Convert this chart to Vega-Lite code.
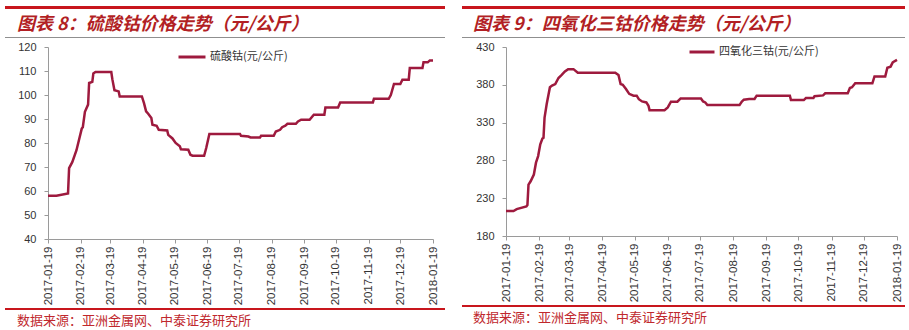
{
  "$schema": "https://vega.github.io/schema/vega-lite/v6.json",
  "background": "white",
  "padding": {"left": 5, "top": 6, "right": 0, "bottom": 0},
  "config": {
    "view": {"stroke": null},
    "axis": {"labelFont": "Liberation Sans", "labelFontSize": 11, "labelColor": "#333333", "domainColor": "#9a9a9a", "tickColor": "#9a9a9a", "tickSize": 4, "grid": false, "title": null},
    "axisY": {"labelPadding": 8},
    "axisX": {"labelPadding": 3, "labelFontSize": 11.5},
    "legend": {"padding": 0}
  },
  "resolve": {"scale": {"color": "independent", "x": "independent", "y": "independent"}, "legend": {"color": "independent"}},
  "datasets": {
    "s1": [
      {"date": "2017-01-19", "value": 58, "series": "硫酸钴(元/公斤)"},
      {"date": "2017-01-27", "value": 58, "series": "硫酸钴(元/公斤)"},
      {"date": "2017-02-07", "value": 59, "series": "硫酸钴(元/公斤)"},
      {"date": "2017-02-08", "value": 69.5, "series": "硫酸钴(元/公斤)"},
      {"date": "2017-02-11", "value": 72, "series": "硫酸钴(元/公斤)"},
      {"date": "2017-02-15", "value": 77, "series": "硫酸钴(元/公斤)"},
      {"date": "2017-02-20", "value": 86, "series": "硫酸钴(元/公斤)"},
      {"date": "2017-02-21", "value": 86.6, "series": "硫酸钴(元/公斤)"},
      {"date": "2017-02-23", "value": 93, "series": "硫酸钴(元/公斤)"},
      {"date": "2017-02-26", "value": 96, "series": "硫酸钴(元/公斤)"},
      {"date": "2017-02-27", "value": 105, "series": "硫酸钴(元/公斤)"},
      {"date": "2017-03-02", "value": 105.5, "series": "硫酸钴(元/公斤)"},
      {"date": "2017-03-03", "value": 109, "series": "硫酸钴(元/公斤)"},
      {"date": "2017-03-05", "value": 109.6, "series": "硫酸钴(元/公斤)"},
      {"date": "2017-03-20", "value": 109.6, "series": "硫酸钴(元/公斤)"},
      {"date": "2017-03-21", "value": 106.6, "series": "硫酸钴(元/公斤)"},
      {"date": "2017-03-23", "value": 102, "series": "硫酸钴(元/公斤)"},
      {"date": "2017-03-27", "value": 101.5, "series": "硫酸钴(元/公斤)"},
      {"date": "2017-03-28", "value": 99.4, "series": "硫酸钴(元/公斤)"},
      {"date": "2017-04-18", "value": 99.4, "series": "硫酸钴(元/公斤)"},
      {"date": "2017-04-20", "value": 96.6, "series": "硫酸钴(元/公斤)"},
      {"date": "2017-04-22", "value": 93.2, "series": "硫酸钴(元/公斤)"},
      {"date": "2017-04-24", "value": 92.2, "series": "硫酸钴(元/公斤)"},
      {"date": "2017-04-27", "value": 90.4, "series": "硫酸钴(元/公斤)"},
      {"date": "2017-04-28", "value": 87.6, "series": "硫酸钴(元/公斤)"},
      {"date": "2017-05-02", "value": 87.2, "series": "硫酸钴(元/公斤)"},
      {"date": "2017-05-04", "value": 85.5, "series": "硫酸钴(元/公斤)"},
      {"date": "2017-05-12", "value": 85.2, "series": "硫酸钴(元/公斤)"},
      {"date": "2017-05-13", "value": 83.4, "series": "硫酸钴(元/公斤)"},
      {"date": "2017-05-17", "value": 81.9, "series": "硫酸钴(元/公斤)"},
      {"date": "2017-05-20", "value": 80, "series": "硫酸钴(元/公斤)"},
      {"date": "2017-05-24", "value": 78.6, "series": "硫酸钴(元/公斤)"},
      {"date": "2017-05-25", "value": 77.4, "series": "硫酸钴(元/公斤)"},
      {"date": "2017-06-01", "value": 77.2, "series": "硫酸钴(元/公斤)"},
      {"date": "2017-06-03", "value": 75.1, "series": "硫酸钴(元/公斤)"},
      {"date": "2017-06-05", "value": 74.7, "series": "硫酸钴(元/公斤)"},
      {"date": "2017-06-16", "value": 74.7, "series": "硫酸钴(元/公斤)"},
      {"date": "2017-06-18", "value": 77.9, "series": "硫酸钴(元/公斤)"},
      {"date": "2017-06-21", "value": 83.8, "series": "硫酸钴(元/公斤)"},
      {"date": "2017-07-20", "value": 83.8, "series": "硫酸钴(元/公斤)"},
      {"date": "2017-07-21", "value": 83, "series": "硫酸钴(元/公斤)"},
      {"date": "2017-07-28", "value": 82.7, "series": "硫酸钴(元/公斤)"},
      {"date": "2017-07-30", "value": 82.3, "series": "硫酸钴(元/公斤)"},
      {"date": "2017-08-08", "value": 82.3, "series": "硫酸钴(元/公斤)"},
      {"date": "2017-08-09", "value": 83, "series": "硫酸钴(元/公斤)"},
      {"date": "2017-08-21", "value": 83, "series": "硫酸钴(元/公斤)"},
      {"date": "2017-08-23", "value": 84.8, "series": "硫酸钴(元/公斤)"},
      {"date": "2017-08-27", "value": 85.5, "series": "硫酸钴(元/公斤)"},
      {"date": "2017-08-29", "value": 86.6, "series": "硫酸钴(元/公斤)"},
      {"date": "2017-09-01", "value": 87.2, "series": "硫酸钴(元/公斤)"},
      {"date": "2017-09-03", "value": 88, "series": "硫酸钴(元/公斤)"},
      {"date": "2017-09-11", "value": 88, "series": "硫酸钴(元/公斤)"},
      {"date": "2017-09-13", "value": 89, "series": "硫酸钴(元/公斤)"},
      {"date": "2017-09-16", "value": 89.7, "series": "硫酸钴(元/公斤)"},
      {"date": "2017-09-24", "value": 89.7, "series": "硫酸钴(元/公斤)"},
      {"date": "2017-09-28", "value": 91.8, "series": "硫酸钴(元/公斤)"},
      {"date": "2017-10-08", "value": 91.8, "series": "硫酸钴(元/公斤)"},
      {"date": "2017-10-09", "value": 94.8, "series": "硫酸钴(元/公斤)"},
      {"date": "2017-10-21", "value": 94.8, "series": "硫酸钴(元/公斤)"},
      {"date": "2017-10-23", "value": 96.9, "series": "硫酸钴(元/公斤)"},
      {"date": "2017-11-23", "value": 96.9, "series": "硫酸钴(元/公斤)"},
      {"date": "2017-11-24", "value": 98.4, "series": "硫酸钴(元/公斤)"},
      {"date": "2017-12-08", "value": 98.4, "series": "硫酸钴(元/公斤)"},
      {"date": "2017-12-10", "value": 100, "series": "硫酸钴(元/公斤)"},
      {"date": "2017-12-13", "value": 104.6, "series": "硫酸钴(元/公斤)"},
      {"date": "2017-12-19", "value": 104.6, "series": "硫酸钴(元/公斤)"},
      {"date": "2017-12-21", "value": 106.4, "series": "硫酸钴(元/公斤)"},
      {"date": "2017-12-27", "value": 106.4, "series": "硫酸钴(元/公斤)"},
      {"date": "2017-12-28", "value": 111.2, "series": "硫酸钴(元/公斤)"},
      {"date": "2018-01-09", "value": 111.2, "series": "硫酸钴(元/公斤)"},
      {"date": "2018-01-10", "value": 113.6, "series": "硫酸钴(元/公斤)"},
      {"date": "2018-01-14", "value": 113.6, "series": "硫酸钴(元/公斤)"},
      {"date": "2018-01-16", "value": 114.4, "series": "硫酸钴(元/公斤)"},
      {"date": "2018-01-19", "value": 114.4, "series": "硫酸钴(元/公斤)"}
    ],
    "s2": [
      {"date": "2017-01-19", "value": 213, "series": "四氧化三钴(元/公斤)"},
      {"date": "2017-01-26", "value": 213, "series": "四氧化三钴(元/公斤)"},
      {"date": "2017-01-29", "value": 215.5, "series": "四氧化三钴(元/公斤)"},
      {"date": "2017-02-07", "value": 219, "series": "四氧化三钴(元/公斤)"},
      {"date": "2017-02-08", "value": 221, "series": "四氧化三钴(元/公斤)"},
      {"date": "2017-02-09", "value": 248, "series": "四氧化三钴(元/公斤)"},
      {"date": "2017-02-11", "value": 252.4, "series": "四氧化三钴(元/公斤)"},
      {"date": "2017-02-14", "value": 261.3, "series": "四氧化三钴(元/公斤)"},
      {"date": "2017-02-16", "value": 277, "series": "四氧化三钴(元/公斤)"},
      {"date": "2017-02-18", "value": 285.7, "series": "四氧化三钴(元/公斤)"},
      {"date": "2017-02-20", "value": 301.2, "series": "四氧化三钴(元/公斤)"},
      {"date": "2017-02-22", "value": 309, "series": "四氧化三钴(元/公斤)"},
      {"date": "2017-02-23", "value": 310, "series": "四氧化三钴(元/公斤)"},
      {"date": "2017-02-24", "value": 336.7, "series": "四氧化三钴(元/公斤)"},
      {"date": "2017-02-26", "value": 354.5, "series": "四氧化三钴(元/公斤)"},
      {"date": "2017-03-01", "value": 376.7, "series": "四氧化三钴(元/公斤)"},
      {"date": "2017-03-03", "value": 379, "series": "四氧化三钴(元/公斤)"},
      {"date": "2017-03-06", "value": 381, "series": "四氧化三钴(元/公斤)"},
      {"date": "2017-03-09", "value": 389, "series": "四氧化三钴(元/公斤)"},
      {"date": "2017-03-12", "value": 393, "series": "四氧化三钴(元/公斤)"},
      {"date": "2017-03-15", "value": 397.6, "series": "四氧化三钴(元/公斤)"},
      {"date": "2017-03-18", "value": 400.7, "series": "四氧化三钴(元/公斤)"},
      {"date": "2017-03-23", "value": 400.7, "series": "四氧化三钴(元/公斤)"},
      {"date": "2017-03-27", "value": 396, "series": "四氧化三钴(元/公斤)"},
      {"date": "2017-05-01", "value": 396, "series": "四氧化三钴(元/公斤)"},
      {"date": "2017-05-04", "value": 393, "series": "四氧化三钴(元/公斤)"},
      {"date": "2017-05-06", "value": 381, "series": "四氧化三钴(元/公斤)"},
      {"date": "2017-05-08", "value": 380, "series": "四氧化三钴(元/公斤)"},
      {"date": "2017-05-11", "value": 374.5, "series": "四氧化三钴(元/公斤)"},
      {"date": "2017-05-14", "value": 368, "series": "四氧化三钴(元/公斤)"},
      {"date": "2017-05-18", "value": 365.6, "series": "四氧化三钴(元/公斤)"},
      {"date": "2017-05-21", "value": 365.6, "series": "四氧化三钴(元/公斤)"},
      {"date": "2017-05-23", "value": 361, "series": "四氧化三钴(元/公斤)"},
      {"date": "2017-05-26", "value": 358, "series": "四氧化三钴(元/公斤)"},
      {"date": "2017-05-30", "value": 356.7, "series": "四氧化三钴(元/公斤)"},
      {"date": "2017-06-01", "value": 352.3, "series": "四氧化三钴(元/公斤)"},
      {"date": "2017-06-02", "value": 346.5, "series": "四氧化三钴(元/公斤)"},
      {"date": "2017-06-16", "value": 346.5, "series": "四氧化三钴(元/公斤)"},
      {"date": "2017-06-19", "value": 350, "series": "四氧化三钴(元/公斤)"},
      {"date": "2017-06-22", "value": 357.6, "series": "四氧化三钴(元/公斤)"},
      {"date": "2017-06-28", "value": 357.6, "series": "四氧化三钴(元/公斤)"},
      {"date": "2017-07-01", "value": 362, "series": "四氧化三钴(元/公斤)"},
      {"date": "2017-07-20", "value": 362, "series": "四氧化三钴(元/公斤)"},
      {"date": "2017-07-22", "value": 358, "series": "四氧化三钴(元/公斤)"},
      {"date": "2017-07-24", "value": 356.7, "series": "四氧化三钴(元/公斤)"},
      {"date": "2017-07-26", "value": 353.2, "series": "四氧化三钴(元/公斤)"},
      {"date": "2017-08-25", "value": 353.2, "series": "四氧化三钴(元/公斤)"},
      {"date": "2017-08-27", "value": 357.6, "series": "四氧化三钴(元/公斤)"},
      {"date": "2017-08-29", "value": 360.3, "series": "四氧化三钴(元/公斤)"},
      {"date": "2017-09-03", "value": 361.2, "series": "四氧化三钴(元/公斤)"},
      {"date": "2017-09-08", "value": 361.2, "series": "四氧化三钴(元/公斤)"},
      {"date": "2017-09-10", "value": 365.6, "series": "四氧化三钴(元/公斤)"},
      {"date": "2017-10-11", "value": 365.6, "series": "四氧化三钴(元/公斤)"},
      {"date": "2017-10-12", "value": 359.8, "series": "四氧化三钴(元/公斤)"},
      {"date": "2017-10-24", "value": 359.8, "series": "四氧化三钴(元/公斤)"},
      {"date": "2017-10-26", "value": 362.5, "series": "四氧化三钴(元/公斤)"},
      {"date": "2017-11-02", "value": 362.5, "series": "四氧化三钴(元/公斤)"},
      {"date": "2017-11-03", "value": 365, "series": "四氧化三钴(元/公斤)"},
      {"date": "2017-11-11", "value": 366, "series": "四氧化三钴(元/公斤)"},
      {"date": "2017-11-13", "value": 368.7, "series": "四氧化三钴(元/公斤)"},
      {"date": "2017-12-04", "value": 368.7, "series": "四氧化三钴(元/公斤)"},
      {"date": "2017-12-06", "value": 375.8, "series": "四氧化三钴(元/公斤)"},
      {"date": "2017-12-08", "value": 376.7, "series": "四氧化三钴(元/公斤)"},
      {"date": "2017-12-11", "value": 382, "series": "四氧化三钴(元/公斤)"},
      {"date": "2017-12-27", "value": 382, "series": "四氧化三钴(元/公斤)"},
      {"date": "2017-12-29", "value": 391, "series": "四氧化三钴(元/公斤)"},
      {"date": "2018-01-08", "value": 391, "series": "四氧化三钴(元/公斤)"},
      {"date": "2018-01-10", "value": 402.5, "series": "四氧化三钴(元/公斤)"},
      {"date": "2018-01-13", "value": 404, "series": "四氧化三钴(元/公斤)"},
      {"date": "2018-01-15", "value": 409.6, "series": "四氧化三钴(元/公斤)"},
      {"date": "2018-01-17", "value": 411.4, "series": "四氧化三钴(元/公斤)"},
      {"date": "2018-01-19", "value": 413, "series": "四氧化三钴(元/公斤)"}
    ]
  },
  "hconcat": [
    {
      "spacing": 3,
      "align": "each",
      "vconcat": [
        {
          "data": {"values": []},
          "mark": {"type": "rule"},
          "encoding": {},
          "width": 440,
          "height": 3,
          "view": {"fill": "#c8161d", "stroke": null},
          "title": {"text": "图表 8：硫酸钴价格走势（元/公斤）", "orient": "bottom", "anchor": "start", "dx": 12, "offset": 7, "font": "Noto Sans CJK SC", "fontSize": 18, "fontStyle": "italic", "fontWeight": "bold", "color": "#b21f24"}
        },
        {
          "data": {"values": []},
          "mark": {"type": "rule"},
          "encoding": {},
          "width": 440,
          "height": 1,
          "view": {"fill": "#8f8f8f", "stroke": null}
        },
        {
          "spacing": 0,
          "align": "each",
          "hconcat": [
            {
              "data": {"values": []},
              "mark": {"type": "rule"},
              "encoding": {},
              "width": 1,
              "height": 1
            },
            {
              "width": 385,
              "height": 192,
              "data": {"name": "s1"},
              "mark": {"type": "line", "strokeWidth": 2.5, "interpolate": "linear"},
              "encoding": {
                "x": {
                  "field": "date", "type": "temporal",
                  "scale": {"type": "utc", "domain": [{"year": 2017, "month": 1, "date": 19, "utc": true}, {"year": 2018, "month": 1, "date": 19, "utc": true}]},
                  "axis": {
                    "values": [
                      {"year": 2017, "month": 1, "date": 19, "utc": true},
                      {"year": 2017, "month": 2, "date": 19, "utc": true},
                      {"year": 2017, "month": 3, "date": 19, "utc": true},
                      {"year": 2017, "month": 4, "date": 19, "utc": true},
                      {"year": 2017, "month": 5, "date": 19, "utc": true},
                      {"year": 2017, "month": 6, "date": 19, "utc": true},
                      {"year": 2017, "month": 7, "date": 19, "utc": true},
                      {"year": 2017, "month": 8, "date": 19, "utc": true},
                      {"year": 2017, "month": 9, "date": 19, "utc": true},
                      {"year": 2017, "month": 10, "date": 19, "utc": true},
                      {"year": 2017, "month": 11, "date": 19, "utc": true},
                      {"year": 2017, "month": 12, "date": 19, "utc": true},
                      {"year": 2018, "month": 1, "date": 19, "utc": true}
                    ],
                    "labelExpr": "utcFormat(datum.value, '%Y-%m-%d')", "labelAngle": -90, "labelOverlap": false
                  }
                },
                "y": {
                  "field": "value", "type": "quantitative",
                  "scale": {"domain": [40, 120], "nice": false, "zero": false},
                  "axis": {"values": [40, 50, 60, 70, 80, 90, 100, 110, 120], "minExtent": 42}
                },
                "color": {
                  "field": "series", "type": "nominal",
                  "scale": {"range": ["#9e1a3e"]},
                  "legend": {"title": null, "orient": "none", "legendX": 172, "legendY": 36, "symbolType": "stroke", "symbolSize": 729, "symbolStrokeWidth": 3, "labelFont": "Noto Sans CJK SC", "labelFontSize": 11, "labelColor": "#333333", "labelOffset": 3}
                }
              }
            }
          ]
        },
        {
          "data": {"values": []},
          "mark": {"type": "rule"},
          "encoding": {},
          "width": 440,
          "height": 2,
          "view": {"fill": "#c8161d", "stroke": null},
          "title": {"text": "数据来源：亚洲金属网、中泰证券研究所", "orient": "bottom", "anchor": "start", "dx": 12, "offset": 5, "font": "Noto Sans CJK SC", "fontSize": 13, "fontWeight": "normal", "color": "#c0282d"}
        }
      ]
    },
    {
      "spacing": 3,
      "align": "each",
      "vconcat": [
        {
          "data": {"values": []},
          "mark": {"type": "rule"},
          "encoding": {},
          "width": 443,
          "height": 3,
          "view": {"fill": "#c8161d", "stroke": null},
          "title": {"text": "图表 9：四氧化三钴价格走势（元/公斤）", "orient": "bottom", "anchor": "start", "dx": 11, "offset": 7, "font": "Noto Sans CJK SC", "fontSize": 18, "fontStyle": "italic", "fontWeight": "bold", "color": "#b21f24"}
        },
        {
          "data": {"values": []},
          "mark": {"type": "rule"},
          "encoding": {},
          "width": 443,
          "height": 1,
          "view": {"fill": "#8f8f8f", "stroke": null}
        },
        {
          "spacing": 0,
          "align": "each",
          "hconcat": [
            {
              "data": {"values": []},
              "mark": {"type": "rule"},
              "encoding": {},
              "width": 1,
              "height": 1
            },
            {
              "width": 391,
              "height": 189,
              "data": {"name": "s2"},
              "mark": {"type": "line", "strokeWidth": 2.5, "interpolate": "linear"},
              "encoding": {
                "x": {
                  "field": "date", "type": "temporal",
                  "scale": {"type": "utc", "domain": [{"year": 2017, "month": 1, "date": 19, "utc": true}, {"year": 2018, "month": 1, "date": 19, "utc": true}]},
                  "axis": {
                    "values": [
                      {"year": 2017, "month": 1, "date": 19, "utc": true},
                      {"year": 2017, "month": 2, "date": 19, "utc": true},
                      {"year": 2017, "month": 3, "date": 19, "utc": true},
                      {"year": 2017, "month": 4, "date": 19, "utc": true},
                      {"year": 2017, "month": 5, "date": 19, "utc": true},
                      {"year": 2017, "month": 6, "date": 19, "utc": true},
                      {"year": 2017, "month": 7, "date": 19, "utc": true},
                      {"year": 2017, "month": 8, "date": 19, "utc": true},
                      {"year": 2017, "month": 9, "date": 19, "utc": true},
                      {"year": 2017, "month": 10, "date": 19, "utc": true},
                      {"year": 2017, "month": 11, "date": 19, "utc": true},
                      {"year": 2017, "month": 12, "date": 19, "utc": true},
                      {"year": 2018, "month": 1, "date": 19, "utc": true}
                    ],
                    "labelExpr": "utcFormat(datum.value, '%Y-%m-%d')", "labelAngle": -90, "labelOverlap": false
                  }
                },
                "y": {
                  "field": "value", "type": "quantitative",
                  "scale": {"domain": [180, 430], "nice": false, "zero": false},
                  "axis": {"values": [180, 230, 280, 330, 380, 430], "minExtent": 43}
                },
                "color": {
                  "field": "series", "type": "nominal",
                  "scale": {"range": ["#9e1a3e"]},
                  "legend": {"title": null, "orient": "none", "legendX": 226, "legendY": 32, "symbolType": "stroke", "symbolSize": 625, "symbolStrokeWidth": 3, "labelFont": "Noto Sans CJK SC", "labelFontSize": 11, "labelColor": "#333333", "labelOffset": 3}
                }
              }
            }
          ]
        },
        {
          "data": {"values": []},
          "mark": {"type": "rule"},
          "encoding": {},
          "width": 443,
          "height": 2,
          "view": {"fill": "#c8161d", "stroke": null},
          "title": {"text": "数据来源：亚洲金属网、中泰证券研究所", "orient": "bottom", "anchor": "start", "dx": 11, "offset": 5, "font": "Noto Sans CJK SC", "fontSize": 13, "fontWeight": "normal", "color": "#c0282d"}
        }
      ]
    }
  ],
  "spacing": 17
}
